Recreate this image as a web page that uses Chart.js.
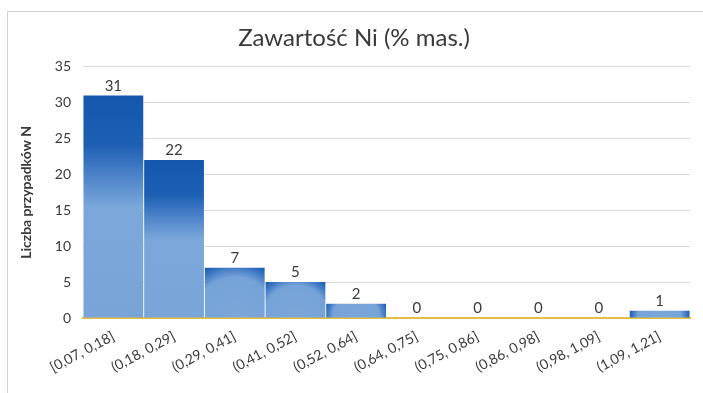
<!DOCTYPE html>
<html>
<head>
<meta charset="utf-8">
<script src="https://cdn.jsdelivr.net/npm/chart.js@4/dist/chart.umd.min.js"></script>
<style>
  html, body { margin: 0; padding: 0; background: #fff; overflow: hidden; }
  #wrap { position: absolute; left: 0; top: 0; width: 703px; height: 393px; }
  #frame { position: absolute; left: 7px; top: 11px; width: 720px; height: 400px; border: 1px solid #d4d4d4; }
</style>
</head>
<body>
<div id="frame"></div>
<div id="wrap"><canvas id="chart" width="703" height="393"></canvas></div>
<script>
const bins = [
  '[0,07, 0,18]', '(0,18, 0,29]', '(0,29, 0,41]', '(0,41, 0,52]', '(0,52, 0,64]',
  '(0,64, 0,75]', '(0,75, 0,86]', '(0,86, 0,98]', '(0,98, 1,09]', '(1,09, 1,21]',
];
const counts = [31, 22, 7, 5, 2, 0, 0, 0, 0, 1];
const yTicks = [0, 5, 10, 15, 20, 25, 30, 35];

const textColor = '#3a3a3a';
const fontFamily = 'Lato, "Open Sans", sans-serif';

const dark = '#1557ad';
const mid = '#3f78c4';
const light = '#7ba7da';

// tall bars: dark cap fading down; short bars: light disc from the base, dark top corners
function barFill(ctx) {
  const chart = ctx.chart;
  if (!chart.chartArea || ctx.parsed == null) return light;
  const xs = chart.scales.x;
  const ys = chart.scales.y;
  const top = ys.getPixelForValue(ctx.parsed.y);
  const bottom = ys.getPixelForValue(0);
  const h = Math.max(bottom - top, 1);
  const cx = xs.getPixelForValue(ctx.dataIndex);
  const w = xs.getPixelForValue(1) - xs.getPixelForValue(0);
  const c = chart.ctx;
  if (h > w) {
    const g = c.createLinearGradient(0, top, 0, bottom);
    g.addColorStop(0, dark);
    g.addColorStop(0.22, '#1d5fb3');
    g.addColorStop(0.32, mid);
    g.addColorStop(0.5, light);
    g.addColorStop(1, '#78a4d8');
    return g;
  }
  const r = Math.sqrt((w / 2) * (w / 2) + h * h);
  const g = c.createRadialGradient(cx, bottom, 0, cx, bottom, r);
  g.addColorStop(0, light);
  g.addColorStop(0.7, '#75a2d8');
  g.addColorStop(0.86, mid);
  g.addColorStop(1, dark);
  return g;
}

// count printed above each bar
const valueLabels = {
  id: 'valueLabels',
  afterDatasetsDraw(chart) {
    const c = chart.ctx;
    const meta = chart.getDatasetMeta(0);
    c.save();
    c.font = '15px ' + fontFamily;
    c.fillStyle = textColor;
    c.textAlign = 'center';
    c.textBaseline = 'bottom';
    meta.data.forEach((bar, i) => {
      c.fillText(String(counts[i]), bar.x, bar.y - 2);
    });
    c.restore();
  }
};

new Chart(document.getElementById('chart').getContext('2d'), {
  type: 'bar',
  data: {
    labels: bins,
    datasets: [
      {
        data: counts,
        backgroundColor: barFill,
        borderWidth: 0,
        barPercentage: 0.985,
        categoryPercentage: 1,
      },
    ],
  },
  options: {
    responsive: false,
    animation: false,
    layout: { padding: { left: 18, right: 13, top: 0, bottom: 0 } },
    plugins: {
      legend: { display: false },
      tooltip: { enabled: false },
      title: {
        display: true,
        text: 'Zawartość Ni (% mas.)',
        color: textColor,
        font: { family: fontFamily, size: 24, weight: 'normal' },
        padding: { top: 24, bottom: 14 },
      },
    },
    scales: {
      x: {
        grid: { display: false },
        border: { color: '#e3bd45', width: 2 },
        ticks: {
          color: textColor,
          font: { family: fontFamily, size: 14 },
          minRotation: 28,
          maxRotation: 28,
          padding: 2,
        },
        afterFit(scale) { scale.height = 75; },
      },
      y: {
        min: 0,
        max: 35,
        afterBuildTicks(scale) { scale.ticks = yTicks.map(v => ({ value: v })); },
        grid: { color: '#d9d9d9', lineWidth: 1, drawTicks: false },
        border: { display: false },
        ticks: {
          color: textColor,
          font: { family: fontFamily, size: 14 },
          padding: 12,
        },
        title: {
          display: true,
          text: 'Liczba przypadków N',
          color: textColor,
          font: { family: fontFamily, size: 14, weight: 'bold' },
          padding: { top: 0, bottom: 8 },
        },
        afterFit(scale) { scale.width = 65; },
      },
    },
  },
  plugins: [valueLabels],
});
</script>
</body>
</html>
